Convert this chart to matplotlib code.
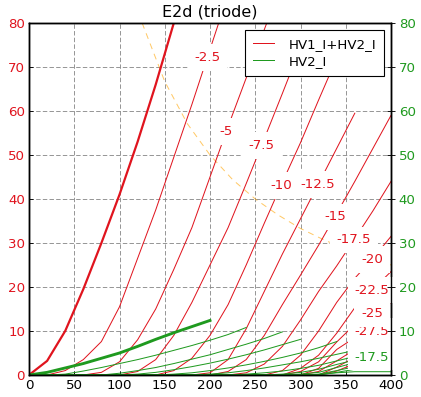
import numpy as np
import matplotlib
matplotlib.use("Agg")
import matplotlib.pyplot as plt
import matplotlib.lines as mlines

nan = np.nan

# ── data ──────────────────────────────────────────────────────────────────
VOLTS = [0, 20, 40, 60, 80, 100, 120, 140, 160, 180, 200,
         220, 240, 260, 280, 300, 320, 340, 360, 380, 400]

# HV1_I+HV2_I (mA), one list per grid voltage
IA_0     = [0, 3.2, 10, 19.5, 30, 41, 53, 66, 80, 95, 111,
            nan, nan, nan, nan, nan, nan, nan, nan, nan, nan]
IA_M2_5  = [0, 0, 1, 3.5, 7.6, 15.5, 26.5, 37.5, 49.5, 61.5, 74,
            86.5, 99, nan, nan, nan, nan, nan, nan, nan, nan]
IA_M5    = [0, 0, 0, 0, 0.6, 3, 8, 15, 24, 33.5, 45,
            56.5, 67.5, 78.5, 89.5, nan, nan, nan, nan, nan, nan]
IA_M7_5  = [0, 0, 0, 0, 0, 0, 0.8, 3.5, 9, 16.5, 25,
            33.5, 43.5, 53.7, 64, 74.5, nan, nan, nan, nan, nan]
IA_M10   = [0, 0, 0, 0, 0, 0, 0, 0, 1, 3.8, 9,
            16, 25, 34.5, 43.8, 52.8, 62.5, 72, nan, nan, nan]
IA_M12_5 = [0, 0, 0, 0, 0, 0, 0, 0, 0, 0, 0.5,
            3.5, 10.5, 19, 27.5, 35.5, 43.5, 51.5, 59.5, nan, nan]
IA_M15   = [0, 0, 0, 0, 0, 0, 0, 0, 0, 0, 0,
            0.8, 3.5, 9, 16, 22.7, 29.5, 36.7, 44, 51.5, 59]
IA_M17_5 = [0, 0, 0, 0, 0, 0, 0, 0, 0, 0, 0,
            0, 0.5, 2.5, 6.5, 12.5, 19, 24.8, 31, 37.3, 44]
IA_M20   = [0, 0, 0, 0, 0, 0, 0, 0, 0, 0, 0,
            0, 0, 0, 1, 4.5, 10, 16.5, 22, 26.5, 31.5]
IA_M22_5 = [0, 0, 0, 0, 0, 0, 0, 0, 0, 0, 0,
            0, 0, 0, 0, 1.5, 4.5, 9.5, 15.3, 19.5, 23.5]
IA_M25   = [0, 0, 0, 0, 0, 0, 0, 0, 0, 0, 0,
            0, 0, 0, 0, 0.8, 3, 7.5, 11.5, 14, 16.5]
IA_M27_5 = [0, 0, 0, 0, 0, 0, 0, 0, 0, 0, 0,
            0, 0, 0, 0, 0, 1.5, 5.8, 8.5, 10, 12]
IA_M30   = [0, 0, 0, 0, 0, 0, 0, 0, 0, 0, 0,
            0, 0, 0, 0, 0, 0.8, 3.2, 5.8, 7.5, 9]
IA_M32_5 = [0, 0, 0, 0, 0, 0, 0, 0, 0, 0, 0,
            0, 0, 0, 0, 0, 0, 1.8, 4, 5.5, 6.5]
IA_M35   = [0, 0, 0, 0, 0, 0, 0, 0, 0, 0, 0,
            0, 0, 0, 0, 0, 0, 0.9, 2.6, 3.8, 4.5]

# HV2_I (mA)
IG_0     = [0, 0.6, 1.6, 2.6, 3.8, 5, 6.5, 8.1, 9.6, 11, 12.4,
            nan, nan, nan, nan, nan, nan, nan, nan, nan, nan]
IG_M2_5  = [0, 0, 0.2, 0.9, 1.7, 2.6, 3.5, 4.5, 5.6, 6.7, 7.9,
            9.2, 10.8, nan, nan, nan, nan, nan, nan, nan, nan]
IG_M5    = [0, 0, 0, 0, 0, 0.4, 1.0, 1.7, 2.6, 3.6, 4.6,
            5.8, 7.0, 8.3, 9.8, nan, nan, nan, nan, nan, nan]
IG_M7_5  = [0, 0, 0, 0, 0, 0, 0.2, 0.6, 1.2, 1.9, 2.7,
            3.6, 4.6, 5.7, 6.9, 8.1, nan, nan, nan, nan, nan]
IG_M10   = [0, 0, 0, 0, 0, 0, 0, 0, 0.2, 0.5, 1.0,
            1.6, 2.3, 3.1, 4.0, 5.0, 6.2, 7.6, nan, nan, nan]
IG_M12_5 = [0, 0, 0, 0, 0, 0, 0, 0, 0, 0, 0.2,
            0.5, 1.0, 1.6, 2.3, 3.0, 3.8, 4.7, 5.6, nan, nan]
IG_M15   = [0, 0, 0, 0, 0, 0, 0, 0, 0, 0, 0,
            0, 0.2, 0.5, 0.9, 1.5, 2.2, 3.2, 4.2, 5.0, 5.8]
IG_M17_5 = [0, 0, 0, 0, 0, 0, 0, 0, 0, 0, 0,
            0, 0, 0, 0.2, 0.6, 1.3, 2.4, 3.4, 4.1, 4.8]
IG_M20   = [0, 0, 0, 0, 0, 0, 0, 0, 0, 0, 0,
            0, 0, 0, 0, 0.2, 0.6, 1.7, 2.8, 3.4, 4.0]
IG_M22_5 = [0, 0, 0, 0, 0, 0, 0, 0, 0, 0, 0,
            0, 0, 0, 0, 0, 0.2, 1.0, 1.9, 2.5, 3.0]
IG_M25   = [0, 0, 0, 0, 0, 0, 0, 0, 0, 0, 0,
            0, 0, 0, 0, 0, 0, 0.6, 1.3, 1.8, 2.2]
IG_M27_5 = [0, 0, 0, 0, 0, 0, 0, 0, 0, 0, 0,
            0, 0, 0, 0, 0, 0.1, 0.5, 0.75, 0.75, 0.75]

GRIDS_RED = [0, -2.5, -5, -7.5, -10, -12.5, -15, -17.5, -20, -22.5, -25, -27.5, -30, -32.5, -35]
CURVES_RED = [IA_0, IA_M2_5, IA_M5, IA_M7_5, IA_M10, IA_M12_5, IA_M15, IA_M17_5,
              IA_M20, IA_M22_5, IA_M25, IA_M27_5, IA_M30, IA_M32_5, IA_M35]
GRIDS_GREEN = [0, -2.5, -5, -7.5, -10, -12.5, -15, -17.5, -20, -22.5, -25, -27.5]
CURVES_GREEN = [IG_0, IG_M2_5, IG_M5, IG_M7_5, IG_M10, IG_M12_5, IG_M15, IG_M17_5,
                IG_M20, IG_M22_5, IG_M25, IG_M27_5]

# max dissipation hyperbola (dashed)
PMAX_V = [125, 150, 175, 200, 225, 250, 275, 300, 325, 350, 375, 400]
PMAX_I = [80, 66.7, 57.1, 50, 44.4, 40, 36.4, 33.3, 30.8, 28.6, 26.7, 25]

# where the inline labels sit (anode volts)
LABEL_GRIDS_RED = [-2.5, -5, -7.5, -10, -12.5, -15, -17.5, -20, -22.5, -25, -27.5]
LABEL_V_RED     = [197, 218, 257, 278.5, 319.5, 338, 359, 379, 379, 379, 379]
LABEL_GRIDS_GREEN = [-17.5]
LABEL_V_GREEN     = [379]

RED = "#e0141e"
GREEN = "#1f9a1f"

W, H, DPI = 421, 397, 80
fig = plt.figure(figsize=(W / DPI, H / DPI), dpi=DPI)
ax = fig.add_axes([29 / W, 22 / H, 362 / W, 352 / H])

for vg, cur in zip(GRIDS_RED, CURVES_RED):
    ax.plot(VOLTS, cur, color=RED, lw=2.0 if vg == 0 else 0.9, zorder=2)
for vg, cur in zip(GRIDS_GREEN, CURVES_GREEN):
    ax.plot(VOLTS, cur, color=GREEN, lw=2.6 if vg == 0 else 0.9, zorder=2.2)

ax.plot(PMAX_V, PMAX_I, color="orange", alpha=0.6, lw=0.9,
        linestyle=(0, (6, 5)), zorder=1.9)


def curve_at(vg, grids, curves, v):
    cur = np.array(curves[grids.index(vg)], dtype=float)
    vv = np.array(VOLTS, dtype=float)
    ok = ~np.isnan(cur)
    return np.interp(v, vv[ok], cur[ok])


box = dict(boxstyle="square,pad=0.5", fc="white", ec="none")
# most negative first, so the upper label covers the lower one
z = 3
for vg, v in reversed(list(zip(LABEL_GRIDS_RED, LABEL_V_RED))):
    y = curve_at(vg, GRIDS_RED, CURVES_RED, v)
    ax.text(v, y, f"{vg:g}", color=RED, fontsize=12, ha="center", va="center",
            bbox=box, zorder=z)
    z += 0.01
for vg, v in zip(LABEL_GRIDS_GREEN, LABEL_V_GREEN):
    y = curve_at(vg, GRIDS_GREEN, CURVES_GREEN, v)
    ax.text(v, y, f"{vg:g}", color=GREEN, fontsize=12, ha="center", va="center",
            bbox=box, zorder=z)

ax.set_xlim(0, 400)
ax.set_ylim(0, 80)
ax.set_xticks(range(0, 401, 50))
ax.set_yticks(range(0, 81, 10))
ax.set_axisbelow(True)
ax.grid(True, color="#8c8c8c", linestyle=(0, (5, 2.5)), linewidth=0.8)
ax.tick_params(axis="both", labelsize=12, direction="in", length=4)
ax.tick_params(axis="y", labelcolor=RED, right=False)
ax.tick_params(axis="x", top=False)
for sp in ax.spines.values():
    sp.set_linewidth(1.3)

ax2 = ax.twinx()
ax2.set_ylim(0, 80)
ax2.set_yticks(range(0, 81, 10))
ax2.tick_params(axis="y", labelsize=12, labelcolor=GREEN, direction="inout", length=7)
for sp in ax2.spines.values():
    sp.set_linewidth(1.3)

ax.set_title("E2d (triode)", fontsize=14.4)

handles = [
    mlines.Line2D([], [], color=RED, lw=0.9, label="HV1_I+HV2_I"),
    mlines.Line2D([], [], color=GREEN, lw=0.9, label="HV2_I"),
]
leg = ax.legend(handles=handles, loc="upper right", fontsize=12, fancybox=False,
                edgecolor="black", framealpha=1, handlelength=1.6,
                handletextpad=1.1, borderaxespad=0.5, borderpad=0.6,
                labelspacing=0.3)
leg.get_frame().set_linewidth(1.0)
leg.set_zorder(10)

fig.savefig("out.png", dpi=DPI)
